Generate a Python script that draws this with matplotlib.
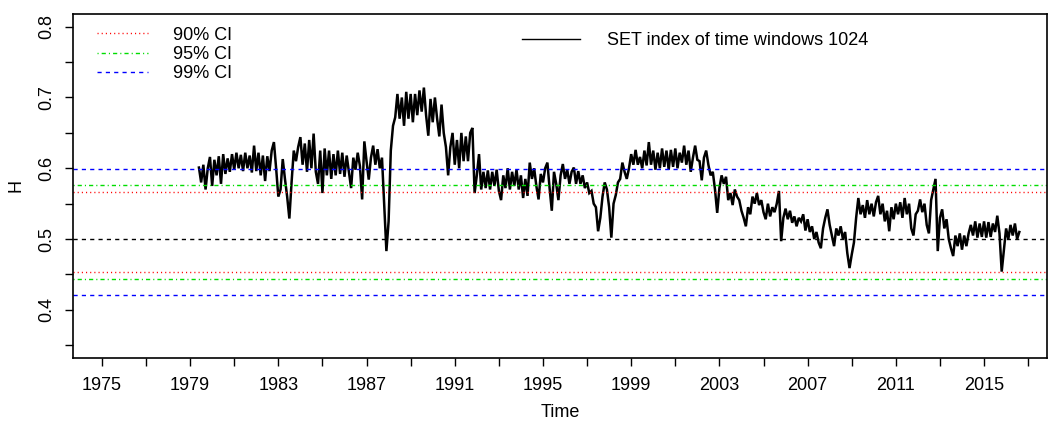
import numpy as np
import matplotlib
matplotlib.use("Agg")
import matplotlib.pyplot as plt
from matplotlib.lines import Line2D

plt.rcParams["font.family"] = ["Liberation Sans", "DejaVu Sans"]

# Hurst exponent of the SET index, rolling windows of 1024 days
# sampled every 0.1 year starting from 1979.4
t_start = 1979.4
t_step = 0.1
h_values = [
    0.601, 0.580, 0.605, 0.570, 0.600, 0.616,                              # 1979
    0.575, 0.612, 0.590, 0.617, 0.578, 0.620, 0.592, 0.614, 0.595, 0.620,  # 1980
    0.598, 0.622, 0.600, 0.619, 0.596, 0.622, 0.600, 0.618, 0.594, 0.632,  # 1981
    0.596, 0.622, 0.590, 0.618, 0.582, 0.617, 0.596, 0.625, 0.637, 0.600,  # 1982
    0.560, 0.570, 0.613, 0.585, 0.560, 0.529, 0.580, 0.625, 0.610, 0.630,  # 1983
    0.644, 0.605, 0.635, 0.595, 0.640, 0.600, 0.649, 0.595, 0.578, 0.625,  # 1984
    0.565, 0.628, 0.590, 0.625, 0.585, 0.620, 0.590, 0.625, 0.592, 0.622,  # 1985
    0.588, 0.618, 0.595, 0.572, 0.615, 0.598, 0.622, 0.603, 0.556, 0.638,  # 1986
    0.610, 0.584, 0.615, 0.632, 0.605, 0.627, 0.600, 0.615, 0.550, 0.483,  # 1987
    0.525, 0.625, 0.660, 0.672, 0.705, 0.670, 0.700, 0.660, 0.708, 0.670,  # 1988
    0.705, 0.665, 0.705, 0.675, 0.710, 0.680, 0.714, 0.675, 0.646, 0.698,  # 1989
    0.665, 0.700, 0.670, 0.645, 0.690, 0.650, 0.630, 0.590, 0.630, 0.650,  # 1990
    0.605, 0.640, 0.600, 0.650, 0.610, 0.645, 0.610, 0.650, 0.657, 0.565,  # 1991
    0.590, 0.620, 0.570, 0.595, 0.572, 0.597, 0.570, 0.595, 0.575, 0.598,  # 1992
    0.568, 0.555, 0.590, 0.572, 0.600, 0.570, 0.595, 0.575, 0.598, 0.570,  # 1993
    0.590, 0.558, 0.585, 0.561, 0.608, 0.585, 0.600, 0.575, 0.556, 0.592,  # 1994
    0.580, 0.600, 0.608, 0.572, 0.540, 0.595, 0.578, 0.555, 0.590, 0.606,  # 1995
    0.585, 0.598, 0.578, 0.595, 0.601, 0.578, 0.596, 0.578, 0.590, 0.572,  # 1996
    0.580, 0.565, 0.568, 0.550, 0.545, 0.511, 0.530, 0.560, 0.580, 0.570,  # 1997
    0.545, 0.502, 0.550, 0.562, 0.580, 0.585, 0.608, 0.595, 0.585, 0.600,  # 1998
    0.620, 0.605, 0.626, 0.605, 0.616, 0.600, 0.625, 0.604, 0.637, 0.605,  # 1999
    0.625, 0.598, 0.622, 0.600, 0.628, 0.602, 0.625, 0.598, 0.626, 0.602,  # 2000
    0.628, 0.600, 0.622, 0.608, 0.632, 0.605, 0.625, 0.595, 0.615, 0.632,  # 2001
    0.612, 0.610, 0.583, 0.615, 0.625, 0.605, 0.590, 0.595, 0.570, 0.537,  # 2002
    0.572, 0.590, 0.578, 0.588, 0.555, 0.565, 0.548, 0.570, 0.560, 0.555,  # 2003
    0.540, 0.530, 0.518, 0.545, 0.535, 0.560, 0.550, 0.565, 0.548, 0.555,  # 2004
    0.538, 0.528, 0.550, 0.532, 0.545, 0.538, 0.550, 0.568, 0.497, 0.530,  # 2005
    0.543, 0.528, 0.540, 0.523, 0.532, 0.518, 0.530, 0.525, 0.535, 0.512,  # 2006
    0.528, 0.510, 0.518, 0.500, 0.510, 0.495, 0.487, 0.515, 0.530, 0.542,  # 2007
    0.520, 0.505, 0.490, 0.515, 0.505, 0.518, 0.500, 0.510, 0.480, 0.459,  # 2008
    0.478, 0.495, 0.530, 0.558, 0.535, 0.548, 0.530, 0.555, 0.535, 0.550,  # 2009
    0.532, 0.552, 0.561, 0.535, 0.550, 0.525, 0.540, 0.511, 0.545, 0.528,  # 2010
    0.550, 0.535, 0.552, 0.530, 0.558, 0.535, 0.550, 0.515, 0.505, 0.535,  # 2011
    0.540, 0.556, 0.538, 0.550, 0.520, 0.508, 0.555, 0.570, 0.585, 0.483,  # 2012
    0.530, 0.542, 0.515, 0.528, 0.500, 0.487, 0.476, 0.505, 0.490, 0.508,  # 2013
    0.485, 0.505, 0.490, 0.508, 0.520, 0.505, 0.525, 0.502, 0.522, 0.503,  # 2014
    0.525, 0.502, 0.524, 0.503, 0.522, 0.510, 0.533, 0.508, 0.454, 0.485,  # 2015
    0.515, 0.500, 0.520, 0.505, 0.522, 0.500, 0.510,                       # 2016
]

# confidence bands around H = 0.5
ci_labels = ["90% CI", "95% CI", "99% CI"]
ci_upper = [0.566, 0.577, 0.599]
ci_lower = [0.453, 0.443, 0.421]
h_null = 0.5

ci_colors = ["red", "#00dd00", "blue"]
ci_styles = [(0, (0.8, 2.2)), (0, (0.8, 2.2, 3.0, 2.2)), (0, (3, 3))]

time = t_start + t_step * np.arange(len(h_values))

fs = 13
fig = plt.figure(figsize=(10.49, 4.23), dpi=100)
ax = fig.add_axes([0.0696, 0.1537, 0.9284, 0.8133])

ax.plot(time, h_values, color="black", lw=1.8, solid_joinstyle="miter")
ax.axhline(h_null, color="black", lw=1, ls=(0, (3, 3)))
for up, lo, c, s in zip(ci_upper, ci_lower, ci_colors, ci_styles):
    ax.axhline(up, color=c, lw=1, ls=s)
    ax.axhline(lo, color=c, lw=1, ls=s)

ax.set_xlim(1973.69, 2017.85)
ax.set_ylim(0.332, 0.818)

ax.set_xticks(np.arange(1975, 2018, 2))
ax.set_xticklabels([str(y) if (y - 1975) % 4 == 0 else "" for y in range(1975, 2018, 2)])
yt = np.round(np.arange(0.35, 0.801, 0.05), 2)
ax.set_yticks(yt)
ax.set_yticklabels(["%.1f" % v if round(v * 100) % 10 == 0 else "" for v in yt],
                   rotation=90, va="center")
ax.tick_params(direction="out", length=6, width=1, labelsize=fs)
ax.tick_params(axis="x", pad=8)
ax.tick_params(axis="y", pad=7)
for sp in ax.spines.values():
    sp.set_linewidth(1.2)

ax.set_xlabel("Time", fontsize=fs, labelpad=7)
ax.set_ylabel("H", fontsize=fs, labelpad=10)

ci_handles = [Line2D([], [], color=c, lw=1, ls=s) for c, s in zip(ci_colors, ci_styles)]
leg1 = ax.legend(ci_handles, ci_labels, loc="upper left", frameon=False, fontsize=fs,
                 handlelength=2.8, handletextpad=1.4, labelspacing=0.12, borderpad=0,
                 bbox_to_anchor=(0.0246, 0.963), borderaxespad=0)
ax.add_artist(leg1)
ax.legend([Line2D([], [], color="black", lw=1)], ["SET index of time windows 1024"],
          loc="upper left", frameon=False, fontsize=fs, handlelength=3.2,
          handletextpad=1.5, borderpad=0,
          bbox_to_anchor=(0.461, 0.948), borderaxespad=0)

fig.savefig("out.png", dpi=100)
